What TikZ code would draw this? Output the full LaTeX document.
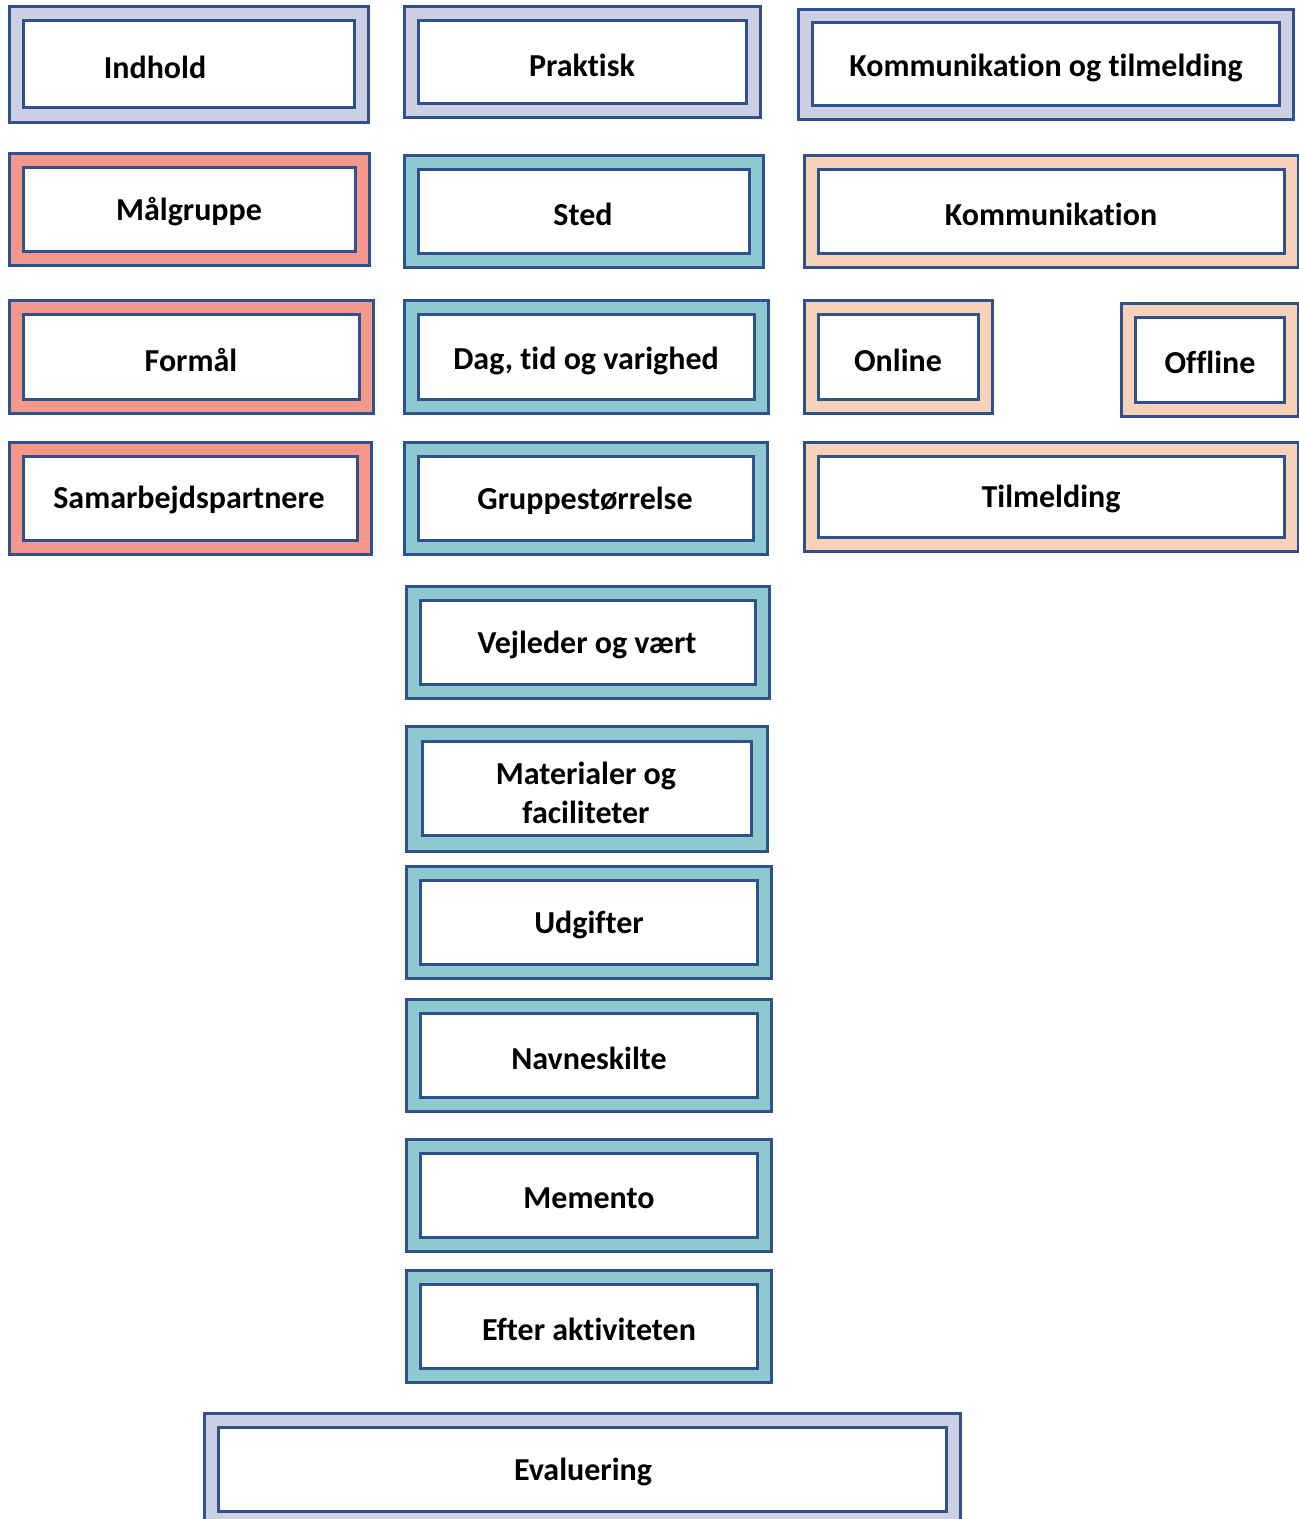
\documentclass[tikz,border=0pt]{standalone}
\usepackage{fontspec}
\setmainfont{Carlito}[Ligatures=NoCommon]
\definecolor{kant}{HTML}{2F528F}
\definecolor{lav}{HTML}{CDD0E2}
\definecolor{laks}{HTML}{F5978A}
\definecolor{teal}{HTML}{8FC9D0}
\definecolor{fersken}{HTML}{F7D1B8}
\begin{document}
\begin{tikzpicture}[x=0.5pt, y=-0.5pt, line width=1.5pt,
  outer/.style={draw=kant, fill=#1},
  inner/.style={draw=kant, fill=white},
  tekst/.style={font=\fontsize{16}{19.5}\selectfont\bfseries, align=center, inner sep=0pt}]
\useasboundingbox (0,0) rectangle (1299,1519);
\clip (0,0) rectangle (1299,1519);
% venstre kolonne
\begin{scope}
\draw[outer=lav] (9,7) rectangle (368,123);
\draw[inner] (23,21) rectangle (354,108);
\node[tekst] (indhold) at (155,67) {Indhold};
\draw[outer=laks] (9,154) rectangle (369,266);
\draw[inner] (23,168) rectangle (355,252);
\node[tekst] (maalgruppe) at (189,212) {Målgruppe};
\draw[outer=laks] (9,301) rectangle (373,413);
\draw[inner] (23,315) rectangle (359,399);
\node[tekst] (formaal) at (191,360) {Formål};
\draw[outer=laks] (9,442) rectangle (371,554);
\draw[inner] (23,456) rectangle (357,540);
\node[tekst] (samarbejde) at (189,500) {Samarbejdspartnere};
\end{scope}
% midterste kolonne
\begin{scope}
\draw[outer=lav] (404,7) rectangle (760,118);
\draw[inner] (418,21) rectangle (746,104);
\node[tekst] (praktisk) at (582,65) {Praktisk};
\draw[outer=teal] (404,156) rectangle (763,268);
\draw[inner] (418,170) rectangle (749,254);
\node[tekst] (sted) at (583,214) {Sted};
\draw[outer=teal] (404,301) rectangle (768,413);
\draw[inner] (418,315) rectangle (754,399);
\node[tekst] (dag) at (586,361) {Dag, tid og varighed};
\draw[outer=teal] (404,442) rectangle (767,554);
\draw[inner] (418,456) rectangle (753,540);
\node[tekst] (gruppe) at (585,501) {Gruppestørrelse};
\draw[outer=teal] (406,586) rectangle (769,698);
\draw[inner] (420,600) rectangle (755,684);
\node[tekst] (vejleder) at (587,645) {Vejleder og vært};
\draw[outer=teal] (406,726) rectangle (767,851);
\draw[inner] (422,741) rectangle (751,835);
\node[tekst] (materialer) at (586,793) {Materialer og\\faciliteter};
\draw[outer=teal] (406,866) rectangle (771,978);
\draw[inner] (420,880) rectangle (757,964);
\node[tekst] (udgifter) at (589,925) {Udgifter};
\draw[outer=teal] (406,999) rectangle (771,1111);
\draw[inner] (420,1013) rectangle (757,1097);
\node[tekst] (navneskilte) at (589,1058) {Navneskilte};
\draw[outer=teal] (406,1139) rectangle (771,1251);
\draw[inner] (420,1153) rectangle (757,1237);
\node[tekst] (memento) at (589,1198) {Memento};
\draw[outer=teal] (406,1270) rectangle (771,1382);
\draw[inner] (420,1284) rectangle (757,1368);
\node[tekst] (efter) at (589,1329) {Efter aktiviteten};
\end{scope}
% hoejre kolonne
\begin{scope}
\draw[outer=lav] (798,10) rectangle (1293,120);
\draw[inner] (812,23) rectangle (1279,106);
\node[tekst] (komtil) at (1046,68) {Kommunikation og tilmelding};
\draw[outer=fersken] (804,156) rectangle (1298,268);
\draw[inner] (818,170) rectangle (1284,254);
\node[tekst] (kom) at (1051,214) {Kommunikation};
\draw[outer=fersken] (804,301) rectangle (992,413);
\draw[inner] (818,315) rectangle (978,399);
\node[tekst] (online) at (898,360) {Online};
\draw[outer=fersken] (1121,304) rectangle (1298,416);
\draw[inner] (1135,318) rectangle (1284,402);
\node[tekst] (offline) at (1210,362) {Offline};
\draw[outer=fersken] (804,442) rectangle (1298,551);
\draw[inner] (818,456) rectangle (1284,537);
\node[tekst] (tilmelding) at (1051,499) {Tilmelding};
\end{scope}
% bund
\draw[outer=lav] (204,1413) rectangle (960,1530);
\draw[inner] (218,1427) rectangle (946,1511);
\node[tekst] (evaluering) at (583,1472) {Evaluering};
\end{tikzpicture}
\end{document}
